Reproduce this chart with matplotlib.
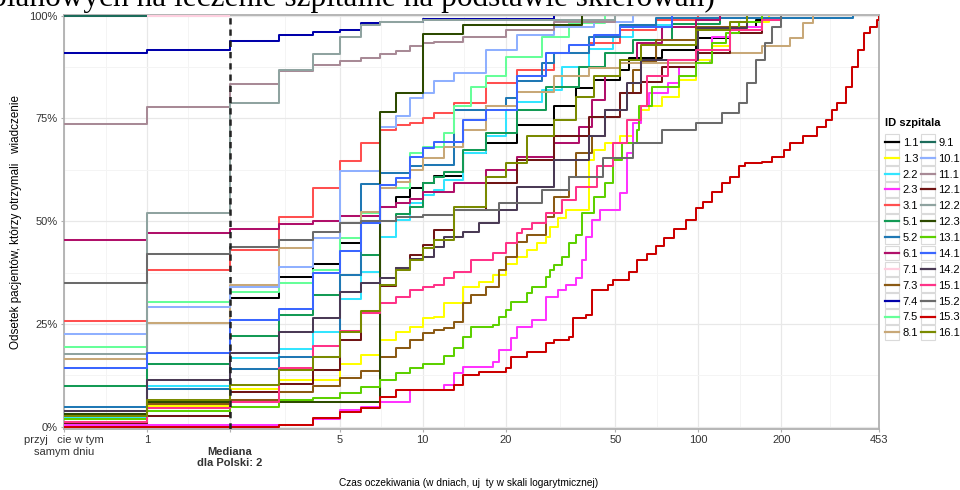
import numpy as np
import matplotlib
matplotlib.use("Agg")
import matplotlib.pyplot as plt
from matplotlib.lines import Line2D
from matplotlib.patches import Rectangle
from matplotlib.legend_handler import HandlerLine2D

plt.rcParams["font.family"] = ["Liberation Sans", "DejaVu Sans"]

# hospital ids and colours (legend order)
ids = ["1.1", "1.3", "2.2", "2.3", "3.1", "5.1", "5.2", "6.1", "7.1", "7.3", "7.4", "7.5", "8.1",
       "9.1", "10.1", "11.1", "12.1", "12.2", "12.3", "13.1", "14.1", "14.2", "15.1", "15.2", "15.3", "16.1"]
colors = ["#000000", "#FFFF00", "#33E5FF", "#FF33FF", "#FF5050", "#139A55", "#1F78B4", "#B0106A",
          "#FFD0E0", "#8B5A14", "#0000AA", "#66FF99", "#C8A878", "#1B6B5A", "#8FB0FF", "#A88A96",
          "#701515", "#8FA3A0", "#2D4A00", "#5DD000", "#3A66FF", "#4A3A55", "#FF3388", "#6B6B6B",
          "#CC0000", "#7A8A00"]

# waiting time (days) and cumulative share of patients (%) per hospital
d_1_1 = [0, 1, 2, 3, 4, 5, 6, 7, 8, 9, 10, 11, 14, 17, 22, 30, 36, 42, 52, 56, 74, 98, 130, 162, 180]
p_1_1 = [3.8, 25.3, 31.2, 36.3, 39.7, 44.6, 50, 53.5, 56, 58, 59.4, 61, 66.5, 69, 73.4, 77.9, 82.3, 84.4, 86.8, 89.6, 91.7, 94.5, 97.3, 99, 100]
d_1_3 = [0, 1, 2, 3, 5, 6, 7, 8, 9, 10, 11, 12, 14, 16, 18, 20, 22, 24, 26, 28, 29, 31, 33, 40, 42, 46, 52, 58, 62, 66, 74, 85, 98, 112, 130, 150, 180]
p_1_3 = [1, 5, 9.2, 11.4, 15.3, 17.4, 21.1, 23.1, 24.3, 26.4, 26.8, 30.2, 34, 35.3, 36.9, 39.7, 41.4, 43, 44.6, 46.2, 48.7, 50.7, 52.7, 64.9, 67.3, 69, 70.6, 73.8, 77, 78, 80.3, 84.4, 89.2, 92.5, 96.5, 98.5, 100]
d_2_2 = [0, 1, 2, 3, 4, 5, 6, 7, 8, 9, 10, 11, 12, 14, 17, 20, 22, 27, 32, 40, 49, 58, 80]
p_2_2 = [2, 10, 16.6, 18.8, 23.1, 31, 37.7, 46.2, 50.3, 54.4, 56.4, 57.6, 60, 66.5, 70.6, 77, 79, 82, 87.6, 92, 94.9, 97.7, 100]
d_2_3 = [0, 4, 5, 6, 7, 9, 12, 13, 14, 18, 19, 21, 22, 25, 28, 31, 33, 36, 38, 39, 41, 44, 52, 55, 58, 62, 66, 78, 85, 98, 112, 130, 170]
p_2_3 = [0.4, 1.8, 4.1, 4.9, 6.1, 8.9, 10.1, 13, 14.6, 15.8, 18.7, 21.5, 24.3, 26, 31.6, 33.3, 34.5, 36.1, 40.6, 46.2, 50.3, 52.7, 56.8, 66.5, 73.8, 77.9, 81.1, 83.5, 87.6, 90.8, 94.9, 97.3, 100]
d_3_1 = [0, 1, 2, 3, 4, 5, 6, 7, 8, 9, 10, 11, 13, 17, 22, 30, 40, 52, 70, 100]
p_3_1 = [25.8, 38, 43, 51, 58, 64.7, 69, 72.2, 73.4, 74, 75, 76.3, 78.7, 83.6, 86.8, 90.8, 93.3, 96.5, 99, 100]
d_5_1 = [0, 1, 2, 3, 4, 5, 6, 7, 8, 9, 10, 11, 12, 14, 17, 22, 28, 37, 46, 58, 80, 120]
p_5_1 = [10, 15.2, 22.1, 27.2, 32, 36.9, 41.8, 50, 51.8, 53.5, 59.2, 60.8, 62, 67.3, 71.4, 77, 82.7, 87.6, 90.8, 94.1, 98, 100]
d_5_2 = [0, 1, 2, 3, 5, 6, 7, 9, 10, 13, 17, 20, 22, 27, 30, 40, 52, 70, 365]
p_5_2 = [4.9, 9.1, 14, 17, 36.9, 59, 61.8, 63.3, 63.7, 77, 78, 80, 84, 88.4, 90.8, 94.9, 97.7, 99.5, 100]
d_6_1 = [0, 1, 2, 3, 4, 5, 7, 8, 9, 10, 13, 17, 22, 30, 37, 41, 46, 52, 60, 74, 98, 120]
p_6_1 = [45.4, 47.2, 48.1, 49.2, 50, 51.3, 53.5, 54.4, 55.4, 57.2, 59.2, 62.5, 65.7, 69, 73, 79.5, 85.2, 89.2, 93.3, 97.3, 99, 100]
d_7_1 = [0, 2]
p_7_1 = [100, 100]
d_7_3 = [0, 1, 2, 3, 4, 5, 6, 7, 8, 9, 10, 11, 12, 13, 14, 15, 17, 19, 20, 22, 24, 28, 30, 34, 36, 41, 46, 52, 58, 62, 70, 98, 150]
p_7_3 = [1, 5.4, 6.5, 8.5, 9.9, 11.8, 13.6, 17, 19.1, 21.1, 22.7, 23.5, 23.9, 25.5, 30, 32, 34, 38.1, 41.4, 45, 46.6, 51.1, 56, 60.8, 66.5, 70.6, 77, 81.1, 86.8, 88.8, 94.1, 97.3, 100]
d_7_4 = [0, 1, 2, 3, 4, 5, 6, 7, 10, 30]
p_7_4 = [90.9, 91.7, 93.8, 95.3, 95.9, 96.5, 98.1, 98.5, 99.1, 100]
d_7_5 = [0, 1, 2, 3, 4, 5, 6, 7, 9, 10, 12, 13, 15, 17, 20, 27, 34, 46]
p_7_5 = [19.5, 30.3, 32.8, 34.9, 38.1, 45.8, 51.9, 58, 66.5, 68.1, 71.4, 77.9, 82.7, 85.2, 90, 94.9, 98.2, 100]
d_8_1 = [0, 1, 2, 3, 4, 5, 6, 7, 8, 9, 10, 12, 14, 17, 22, 30, 40, 52, 110, 112, 170, 215, 240, 260]
p_8_1 = [16.5, 25.3, 34.5, 43.4, 45.8, 49.5, 52.3, 58, 59.6, 62.5, 65.3, 68.1, 72.2, 77.9, 81.5, 85.2, 87.2, 88.4, 89, 90.8, 92.5, 94.5, 98.2, 100]
d_9_1 = [0, 1]
p_9_1 = [100, 100]
d_10_1 = [0, 1, 2, 3, 4, 5, 7, 8, 9, 10, 11, 13, 17, 22, 30, 42, 58]
p_10_1 = [22.5, 29.2, 33.9, 38.9, 46, 62.3, 73, 75.6, 80, 81.3, 84, 86, 91.7, 95.3, 97.3, 98.5, 100]
d_11_1 = [0, 1, 2, 3, 4, 5, 6, 7, 8, 9, 10, 11, 14, 20, 30, 50]
p_11_1 = [73.6, 77.8, 83.4, 86.6, 88, 89, 89.6, 90.6, 91.5, 92.5, 93.3, 93.7, 94.9, 96.5, 98.5, 100]
d_12_1 = [0, 1, 2, 3, 4, 5, 6, 7, 8, 9, 10, 11, 13, 17, 22, 30, 40, 52, 62, 74, 98, 130, 170, 200]
p_12_1 = [1, 2.6, 8.4, 10.4, 13.8, 21.1, 27.6, 34.2, 38.5, 41.8, 44.2, 47.9, 52.7, 59.2, 64.9, 70.6, 75.4, 81.1, 83.9, 87.6, 90.8, 95.7, 99, 100]
d_12_2 = [0, 1, 2, 3, 4, 5, 6, 7, 10, 50]
p_12_2 = [17.6, 51.9, 78.8, 86.8, 90.7, 94.9, 97.7, 98.5, 99, 100]
d_12_3 = [0, 1, 7, 8, 10, 14, 38]
p_12_3 = [3, 6, 76.6, 81.3, 95.5, 97.7, 100]
d_13_1 = [0, 1, 2, 3, 4, 5, 6, 7, 8, 9, 10, 12, 13, 14, 15, 18, 19, 20, 21, 24, 25, 28, 29, 30, 32, 34, 36, 38, 42, 46, 49, 53, 60, 61, 68, 85, 98, 112, 126, 140, 170]
p_13_1 = [1.8, 3.7, 4.9, 6.5, 7.1, 8.3, 9.7, 11.4, 13.1, 14.2, 15.3, 17.2, 19.1, 21.9, 24.3, 24.7, 26.8, 28.4, 30.4, 32.5, 34, 36.5, 38.1, 39.3, 41.4, 44.6, 46.6, 51.9, 56, 59.2, 64.9, 69, 72.2, 77.9, 82.7, 85.2, 88.4, 93.3, 95.7, 98.5, 100]
d_14_1 = [0, 1, 2, 3, 4, 5, 6, 7, 8, 9, 10, 11, 14, 17, 22, 28, 34, 42, 52, 80]
p_14_1 = [14.2, 17.9, 26, 28.6, 37.3, 42.7, 49.5, 58.8, 60.4, 65.7, 67.7, 69.3, 74.6, 77, 85.2, 90.8, 92.9, 95.3, 97.3, 100]
d_14_2 = [0, 1, 2, 3, 4, 5, 6, 7, 8, 9, 10, 11, 12, 14, 16, 19, 22, 30, 40, 46, 55, 62, 100, 150]
p_14_2 = [3.8, 11.4, 18, 23.1, 26.4, 32.8, 35, 36.1, 38.5, 40.7, 41.4, 43.8, 46.2, 47.4, 49.5, 52.7, 58.4, 64.9, 70.6, 77, 83.5, 89.2, 97, 100]
d_15_1 = [0, 1, 2, 3, 4, 5, 6, 7, 8, 9, 10, 11, 12, 13, 15, 18, 20, 22, 23, 25, 28, 32, 36, 43, 49, 55, 62, 65, 78, 98, 130, 170, 200]
p_15_1 = [1.2, 4.5, 6, 14.4, 19.7, 23.3, 27.6, 30, 31.6, 33.3, 34, 34.5, 36.1, 37.7, 40.6, 42.2, 44.6, 47, 48, 49.5, 51.9, 55.2, 58.4, 63.3, 69, 74.6, 77.9, 85.2, 89.2, 91.7, 96.5, 99, 100]
d_15_2 = [0, 1, 2, 3, 4, 5, 6, 8, 10, 13, 19, 27, 34, 45, 58, 74, 98, 122, 140, 150, 162, 175, 185, 200]
p_15_2 = [35, 42, 43.6, 45.4, 47.4, 49.5, 50, 51, 51.5, 52.7, 54.4, 57.6, 60.8, 65.3, 69, 72.2, 73.8, 76.2, 78.7, 83.5, 89.2, 93.3, 97.3, 100]
d_15_3 = [0, 3, 4, 5, 6, 7, 8, 13, 14, 16, 20, 21, 24, 28, 30, 34, 35, 39, 41, 47, 49, 56, 60, 65, 70, 75, 82, 90, 98, 104, 112, 122, 130, 140, 148, 170, 185, 205, 215, 240, 270, 290, 305, 320, 345, 362, 380, 400, 420, 445, 453]
p_15_3 = [0, 0.4, 2, 3.6, 4.5, 7.3, 8.9, 10.1, 12.6, 13.4, 14.2, 17, 18.2, 20.3, 21.1, 21.9, 26.4, 27.2, 33.3, 34.5, 35.7, 37.7, 40.6, 42, 44, 46, 48, 50.3, 53.1, 54.7, 57.2, 59.2, 60.8, 63.3, 64.1, 64.5, 65.7, 67.3, 69, 70.6, 73, 74.6, 77, 78.7, 82.7, 87.6, 91.7, 95.7, 97.3, 99, 100]
d_16_1 = [0, 1, 2, 3, 4, 5, 6, 7, 8, 9, 10, 11, 13, 17, 20, 24, 30, 36, 42, 52, 62, 98, 130, 150]
p_16_1 = [2.5, 6.5, 10.1, 13.8, 17, 23.1, 28.2, 34.5, 38.1, 40.6, 43.4, 45.4, 53.5, 60.8, 64.1, 70.6, 74.6, 80.3, 85.2, 89.2, 92.9, 96.5, 98.5, 100]

series = [(d_1_1, p_1_1), (d_1_3, p_1_3), (d_2_2, p_2_2), (d_2_3, p_2_3), (d_3_1, p_3_1),
          (d_5_1, p_5_1), (d_5_2, p_5_2), (d_6_1, p_6_1), (d_7_1, p_7_1), (d_7_3, p_7_3),
          (d_7_4, p_7_4), (d_7_5, p_7_5), (d_8_1, p_8_1), (d_9_1, p_9_1), (d_10_1, p_10_1),
          (d_11_1, p_11_1), (d_12_1, p_12_1), (d_12_2, p_12_2), (d_12_3, p_12_3), (d_13_1, p_13_1),
          (d_14_1, p_14_1), (d_14_2, p_14_2), (d_15_1, p_15_1), (d_15_2, p_15_2), (d_15_3, p_15_3),
          (d_16_1, p_16_1)]

x_ticks = [0, 1, 2, 5, 10, 20, 50, 100, 200, 453]
x_labels = ["przyj   cie w tym\nsamym dniu", "1", "\nMediana\ndla Polski: 2", "5", "10", "20",
            "50", "100", "200", "453"]
median_days = 2


# log scale, with "same day" (0) placed one doubling left of 1
def fwd(x):
    x = np.asarray(x, dtype=float)
    return np.where(x >= 1, np.log10(np.maximum(x, 1)), (x - 1) * np.log10(2))


def inv(y):
    y = np.asarray(y, dtype=float)
    return np.where(y >= 0, 10 ** np.maximum(y, 0), y / np.log10(2) + 1)


class BoxedLine(HandlerLine2D):
    # ggplot-like legend key: line inside a light grey box
    def create_artists(self, legend, orig_handle, xdescent, ydescent, width, height, fontsize, trans):
        arts = super().create_artists(legend, orig_handle, xdescent, ydescent, width, height, fontsize, trans)
        yc = -ydescent + height / 2
        box = Rectangle((-xdescent, yc - 0.66 * fontsize), width, 1.32 * fontsize, transform=trans,
                        facecolor="white", edgecolor="#DADADA", lw=0.8)
        return [box] + arts


fig = plt.figure(figsize=(9.6, 4.9), dpi=100)
ax = fig.add_axes([0.0667, 0.1245, 0.849, 0.845])
ax.set_xscale("function", functions=(fwd, inv))

for (d, p), c in zip(series, colors):
    ax.step(d, p, where="post", color=c, lw=1.45, solid_capstyle="butt", zorder=3)

ax.axvline(median_days, color="#222222", lw=1.8, ls=(0, (2.5, 2)), zorder=5)

ax.set_xlim(0, 453)
ax.set_ylim(-0.56, 100.17)
ax.set_xticks(x_ticks)
ax.set_xticklabels(x_labels)
ax.get_xticklabels()[2].set_fontweight("bold")
tp = fwd(x_ticks)
ax.set_xticks(inv((tp[:-1] + tp[1:]) / 2), minor=True)
ax.set_yticks([0, 25, 50, 75, 100])
ax.set_yticklabels(["0%", "25%", "50%", "75%", "100%"])
ax.set_yticks([12.5, 37.5, 62.5, 87.5], minor=True)
ax.grid(which="major", color="#E8E8E8", lw=0.9, zorder=0)
ax.grid(which="minor", color="#F4F4F4", lw=0.7, zorder=0)
ax.set_axisbelow(True)
for s in ax.spines.values():
    s.set_color("#B0B0B0")
    s.set_linewidth(1.3)
ax.tick_params(which="major", length=2.5, color="#B0B0B0", labelsize=8, labelcolor="#333333", pad=2)
ax.tick_params(which="minor", length=0)

ax.set_ylabel("Odsetek pacjentów, którzy otrzymali   wiadczenie", fontsize=8.4, labelpad=5)
fig.text(469 / 960, 1 - 483 / 490, "Czas oczekiwania (w dniach, uj  ty w skali logarytmicznej)",
         fontsize=7.3, ha="center", va="center")
fig.text(-9 / 960, 1 - 6 / 490, "planowych na leczenie szpitalne na podstawie skierowań)",
         fontsize=22.5, family=["Liberation Serif", "DejaVu Serif"], ha="left", va="baseline")

handles = [Line2D([], [], color=c, lw=1.6) for c in colors]
leg = fig.legend(handles, ids, loc="upper left", bbox_to_anchor=(885 / 960, 1 - 118 / 490),
                 ncol=2, frameon=False, fontsize=8, title="ID szpitala",
                 title_fontproperties={"weight": "bold", "size": 8}, handlelength=1.3,
                 handletextpad=0.3, columnspacing=0.2, labelspacing=0.53, alignment="left",
                 borderaxespad=0, borderpad=0, handler_map={Line2D: BoxedLine()})
leg._legend_box.sep = 7

fig.savefig("out.png", dpi=100)
